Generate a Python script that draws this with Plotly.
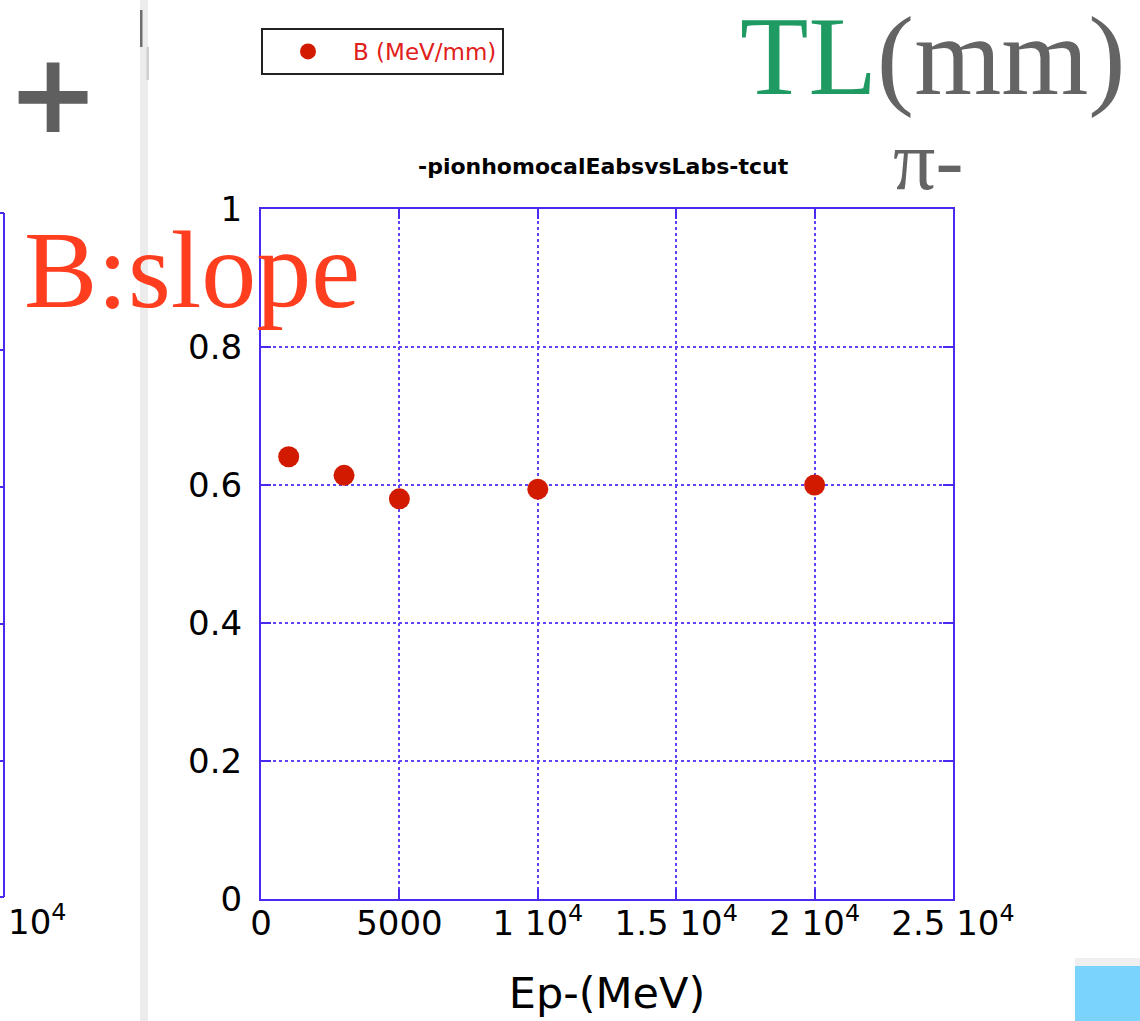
import plotly.graph_objects as go

# Slope B of absorbed energy vs absorber length, pion beam on homogeneous calorimeter
energy_mev = [1000, 3000, 5000, 10000, 20000]
slope_b = [0.641, 0.614, 0.580, 0.594, 0.600]
series_name = "B (MeV/mm)"

x_tick_vals = [0, 5000, 10000, 15000, 20000, 25000]
x_tick_text = ["0", "5000", "1 10<sup>4</sup>", "1.5 10<sup>4</sup>",
               "2 10<sup>4</sup>", "2.5 10<sup>4</sup>"]
y_tick_vals = [0, 0.2, 0.4, 0.6, 0.8, 1.0]
y_tick_text = ["0", "0.2", "0.4", "0.6", "0.8", "1"]

W, H = 1140, 1021
L, R, T, B = 261, 953, 209, 899   # plot-area edges in pixels

def px(x):
    return (x - L) / (R - L)

def py(y):
    return (B - y) / (B - T)

AXIS_BLUE = "#4A2AF0"
GRID_BLUE = "#5E44F6"
MARK_RED = "#D21A00"
SANS = "DejaVu Sans"
SERIF = "Liberation Serif"

fig = go.Figure()
fig.add_trace(go.Scatter(
    x=energy_mev, y=slope_b, mode="markers", name=series_name,
    marker=dict(color=MARK_RED, size=21, symbol="circle", line=dict(width=0)),
    showlegend=True,
))

axis_common = dict(
    showline=True, linecolor=AXIS_BLUE, linewidth=2, mirror="ticks",
    ticks="inside", ticklen=10, tickwidth=2, tickcolor=AXIS_BLUE,
    showgrid=True, gridcolor=GRID_BLUE, gridwidth=1.5, griddash="dot",
    zeroline=False, tickfont=dict(family=SANS, size=34, color="#000"),
)

fig.update_xaxes(range=[0, 25000], tickmode="array", tickvals=x_tick_vals,
                 ticktext=x_tick_text, ticklabelstandoff=-7,
                 title=dict(text="Ep-(MeV)", standoff=36,
                            font=dict(family=SANS, size=43, color="#000")),
                 **axis_common)
fig.update_yaxes(range=[0, 1], tickmode="array", tickvals=y_tick_vals,
                 ticktext=y_tick_text, ticklabelstandoff=10, **axis_common)

shapes = [
    # window separator between the two panels
    dict(type="rect", xref="paper", yref="paper", x0=px(140), x1=px(148),
         y0=py(0), y1=py(W), fillcolor="#ECECEC", line=dict(width=0), layer="below"),
    dict(type="rect", xref="paper", yref="paper", x0=px(140), x1=px(142.5),
         y0=py(47), y1=py(10), fillcolor="#6E6E6E", line=dict(width=0)),
    dict(type="rect", xref="paper", yref="paper", x0=px(146.5), x1=px(149),
         y0=py(80), y1=py(47), fillcolor="#D0D0D0", line=dict(width=0)),
    # edge of the neighbouring panel
    dict(type="line", xref="paper", yref="paper", x0=px(4), x1=px(4),
         y0=py(897), y1=py(213), line=dict(color=AXIS_BLUE, width=2)),
    # highlight box in the lower right corner
    dict(type="rect", xref="paper", yref="paper", x0=px(1075), x1=px(1141),
         y0=py(966), y1=py(958), fillcolor="#EFEFEF", line=dict(width=0)),
    dict(type="rect", xref="paper", yref="paper", x0=px(1075), x1=px(1141),
         y0=py(1022), y1=py(966), fillcolor="#7AD3FC", line=dict(width=0)),
]
for ty in [213, 350, 487, 624, 761, 897]:
    shapes.append(dict(type="line", xref="paper", yref="paper",
                       x0=px(0), x1=px(4), y0=py(ty), y1=py(ty),
                       line=dict(color=AXIS_BLUE, width=2)))

annotations = [
    dict(text="-pionhomocalEabsvsLabs-tcut", x=px(603), y=py(166),
         font=dict(family=SANS, size=22, color="#000", weight="bold")),
    dict(text="B:slope", x=px(22), y=py(270), xanchor="left",
         font=dict(family=SERIF, size=110, color="#FF3D1F")),
    dict(text="<span style='color:#1E9A62'>TL</span>(mm)", x=px(738), y=py(56),
         xanchor="left", font=dict(family=SERIF, size=112, color="#646464")),
    dict(text="π-", x=px(891), y=py(161), xanchor="left",
         font=dict(family=SERIF, size=84, color="#646464")),
    dict(text="+", x=px(53), y=py(94),
         font=dict(family=SANS, size=110, color="#5F5F5F", weight="bold")),
    dict(text="10<sup>4</sup>", x=px(37), y=py(920),
         font=dict(family=SANS, size=34, color="#000")),
]
for a in annotations:
    a.setdefault("xanchor", "center")
    a.update(xref="paper", yref="paper", yanchor="middle", showarrow=False)

fig.update_layout(
    width=W, height=H, autosize=False,
    margin=dict(l=L, r=W - R, t=T, b=H - B, pad=0),
    paper_bgcolor="white", plot_bgcolor="white",
    showlegend=True,
    legend=dict(x=px(261), y=py(28), xanchor="left", yanchor="top",
                bordercolor="#222", borderwidth=2, bgcolor="white",
                font=dict(family=SANS, size=23, color="#E0201A"),
                itemwidth=80),
    shapes=shapes, annotations=annotations,
)

fig.write_html("out.html")
